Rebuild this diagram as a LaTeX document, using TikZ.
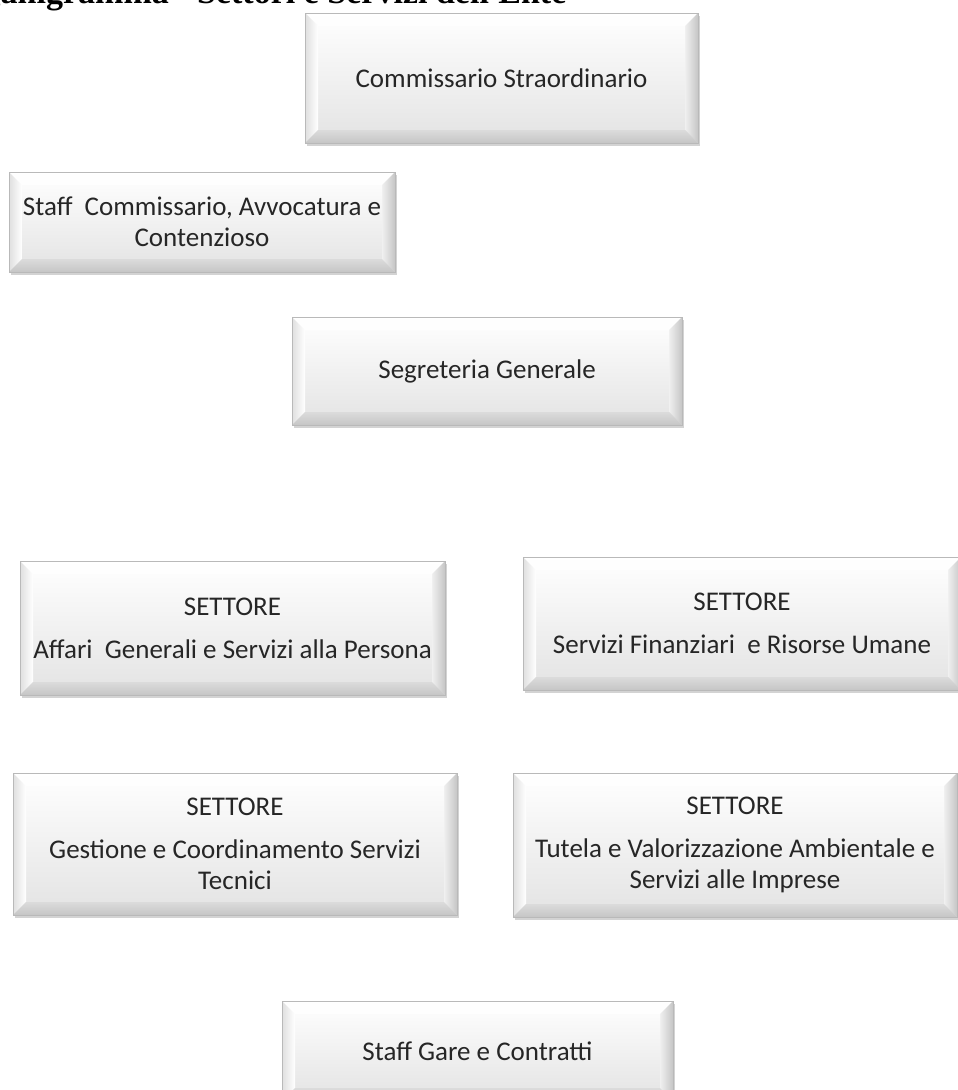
\documentclass[tikz,border=0pt]{standalone}
\usepackage{fontspec}
\usepackage{tikz}
\usetikzlibrary{shadows, positioning}
\newfontfamily\unitfont{Carlito}
\newfontfamily\titlefont{Liberation Serif}
\newcommand{\bev}{13pt}

\begin{document}
\begin{tikzpicture}[
    x=1pt, y=-1pt,
    unitbox/.style={rectangle, draw=gray!55, line width=0.8pt, top color=white, bottom color=gray!22,
        drop shadow={shadow xshift=2pt, shadow yshift=-3pt, opacity=0.35},
        text=black!85, align=center, inner sep=0pt,
        font=\unitfont\fontsize{27}{31}\selectfont,
        path picture={
            \coordinate (bnw) at (path picture bounding box.north west);
            \coordinate (bne) at (path picture bounding box.north east);
            \coordinate (bsw) at (path picture bounding box.south west);
            \coordinate (bse) at (path picture bounding box.south east);
            \fill[white, opacity=0.8] (bnw) -- (bne) -- ([xshift=-\bev, yshift=-\bev]bne) -- ([xshift=\bev, yshift=-\bev]bnw) -- cycle;
            \shade[left color=gray!25, right color=white] (bnw) -- ([xshift=\bev, yshift=-\bev]bnw) -- ([xshift=\bev, yshift=\bev]bsw) -- (bsw) -- cycle;
            \shade[left color=gray!12, right color=gray!45] (bne) -- ([xshift=-\bev, yshift=-\bev]bne) -- ([xshift=-\bev, yshift=\bev]bse) -- (bse) -- cycle;
            \shade[top color=gray!28, bottom color=gray!45] (bsw) -- ([xshift=\bev, yshift=\bev]bsw) -- ([xshift=-\bev, yshift=\bev]bse) -- (bse) -- cycle;
        }},
    heading/.style={font=\titlefont\bfseries\fontsize{34}{40}\selectfont, anchor=base west, inner sep=0pt}
]
    \useasboundingbox (0,0) rectangle (958,1090);

    % title, cut by the page edge
    \node[heading] (title) at (-58,3) {Organigramma - Settori e Servizi dell'Ente};

    % top of the structure
    \node[unitbox, minimum width=393, minimum height=130] (commissario) at (501.5,78) {Commissario Straordinario};
    \node[unitbox, minimum width=386, minimum height=100] (staffComm) at (202,222) {Staff\ \ Commissario, Avvocatura e\\Contenzioso};
    \node[unitbox, minimum width=390, minimum height=108] (segreteria) at (487,371) {Segreteria Generale};

    % settori
    \node[unitbox, minimum width=425, minimum height=134] (affari) at (232.5,628) {SETTORE\\[12pt]Affari\ \ Generali e Servizi alla Persona};
    \node[unitbox, minimum width=438, minimum height=133] (finanziari) at (742,623.5) {SETTORE\\[12pt]Servizi Finanziari\ \ e Risorse Umane};
    \node[unitbox, minimum width=444, minimum height=142] (gestione) at (235,844) {SETTORE\\[12pt]Gestione e Coordinamento Servizi\\Tecnici};
    \node[unitbox, minimum width=444, minimum height=144] (tutela) at (735,845) {SETTORE\\[12pt]Tutela e Valorizzazione Ambientale e\\Servizi alle Imprese};

    % staff in fondo
    \node[unitbox, minimum width=391, minimum height=100] (gare) at (477.5,1051) {Staff Gare e Contratti};
\end{tikzpicture}
\end{document}
